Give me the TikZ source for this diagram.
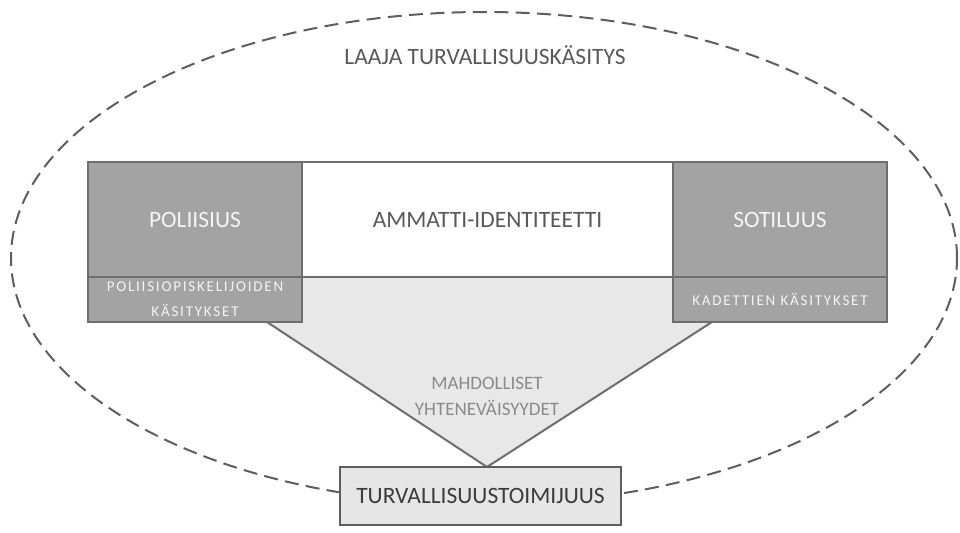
\documentclass[tikz,border=0pt]{standalone}
\usepackage{fontspec}
\setmainfont{Carlito}
\newfontfamily\widefont[LetterSpace=12]{Carlito}
\usetikzlibrary{backgrounds}
\definecolor{boxgray}{HTML}{A3A3A3}
\definecolor{edgegray}{HTML}{6E6E6E}
\definecolor{trifill}{HTML}{E8E8E8}
\definecolor{txtdark}{HTML}{595959}
\definecolor{txtmid}{HTML}{8A8A8A}
\definecolor{txtlight}{HTML}{F4F4F4}
\definecolor{dashgray}{HTML}{5E5E5E}
\definecolor{turvfill}{HTML}{E6E6E6}
\definecolor{turvtext}{HTML}{3C3C3C}
\begin{document}
\begin{tikzpicture}[x=0.75pt,y=-0.75pt,
  every node/.style={inner sep=0pt, outer sep=0pt},
  mainfont/.style={font=\fontsize{17.6}{21}\selectfont},
  graybox/.style={rectangle, draw=edgegray, line width=1.5pt, fill=boxgray,
    text=txtlight, mainfont, minimum width=160.5pt, minimum height=86.25pt},
  subbox/.style={rectangle, draw=edgegray, line width=1.5pt, fill=boxgray,
    text=txtlight, align=center, font=\widefont\fontsize{11.25}{18.75}\selectfont,
    minimum width=160.5pt, minimum height=33.75pt},
  whitebox/.style={rectangle, draw=edgegray, line width=1.5pt, fill=white,
    text=txtdark, mainfont, minimum width=278.25pt, minimum height=86.25pt},
  turvbox/.style={rectangle, draw=edgegray!85!black, line width=1.5pt, fill=turvfill,
    text=turvtext, mainfont, minimum width=210.75pt, minimum height=43.5pt},
  outline/.style={draw=edgegray, line width=1.5pt},
  scopeline/.style={draw=dashgray, line width=1.5pt, dash pattern=on 10.5pt off 5.5pt}
]
\useasboundingbox (0,0) rectangle (960,532);

\node[graybox] (pol) at (195,219.5) {POLIISIUS};
\node[subbox] (polsub) at (195,299.5) {POLIISIOPISKELIJOIDEN\\KÄSITYKSET};
\node[whitebox] (mid) at (487.5,219.5) {AMMATTI-IDENTITEETTI};
\node[graybox] (sot) at (780,219.5) {SOTILUUS};
\node[subbox] (sotsub) at (780,299.5) {KADETTIEN KÄSITYKSET};
\node[turvbox] (turv) at (480.5,496) {TURVALLISUUSTOIMIJUUS};

\node[text=txtdark, mainfont] (laaja) at (485,55) {LAAJA TURVALLISUUSKÄSITYS};
\node[text=txtmid, align=center, font=\fontsize{14.25}{19.5}\selectfont] (mahd) at (487,396)
  {MAHDOLLISET\\YHTENEVÄISYYDET};

\coordinate (tl) at (267,322);
\coordinate (tr) at (712,322);
\coordinate (apex) at (487,467);

\begin{scope}[on background layer]
  \draw[scopeline] (484,258) ellipse [x radius=354.75pt, y radius=184.5pt];
  \fill[trifill] (tl) -- (tl |- mid.south) -- (tr |- mid.south) -- (tr) -- (apex) -- cycle;
  \draw[outline] (tl) -- (apex) -- (tr);
\end{scope}
\end{tikzpicture}
\end{document}
